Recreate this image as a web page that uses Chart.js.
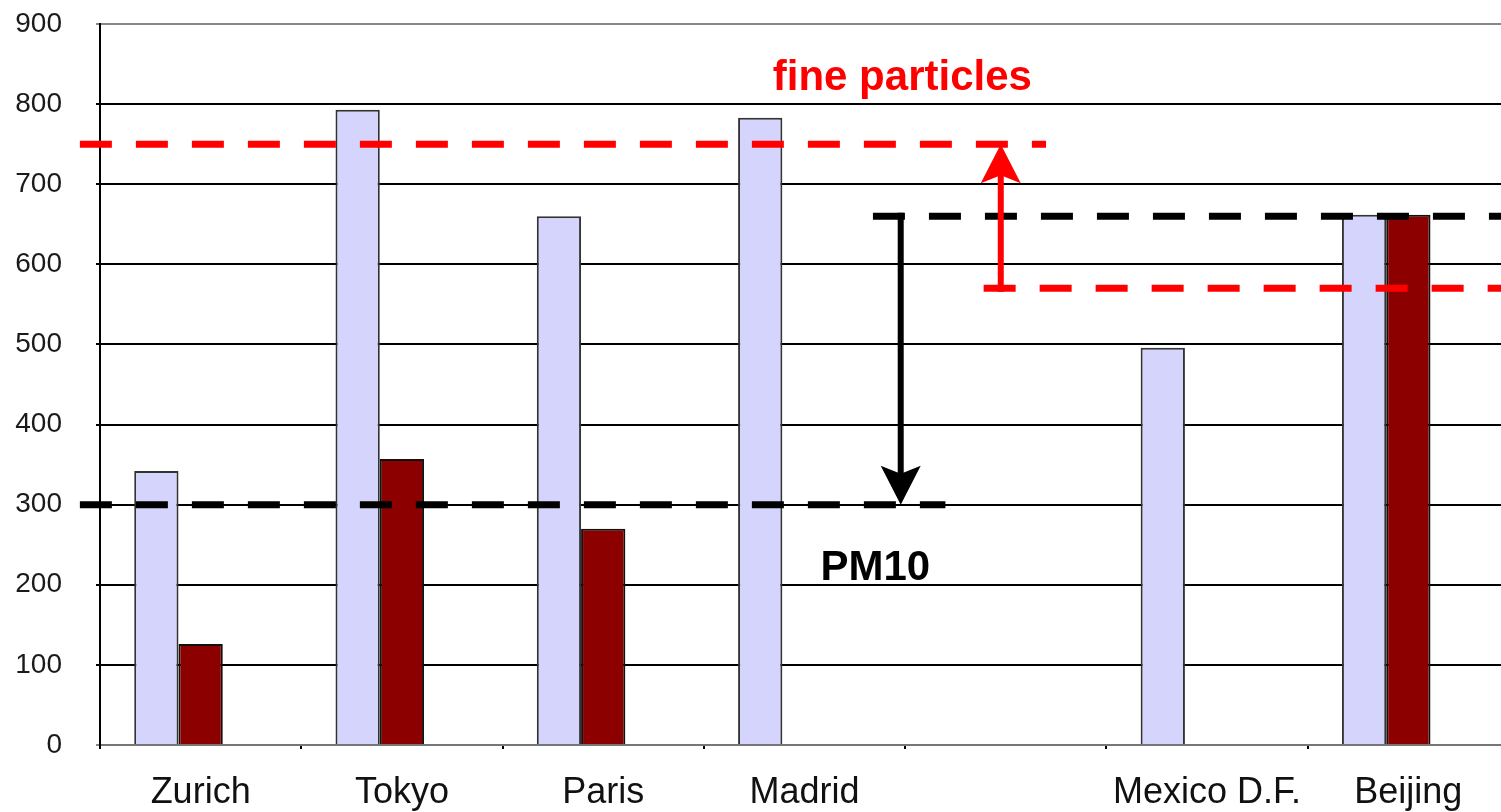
<!DOCTYPE html>
<html>
<head>
<meta charset="utf-8">
<title>PM10 and fine particles</title>
<script src="https://cdn.jsdelivr.net/npm/chart.js@4.4.0/dist/chart.umd.min.js"></script>
<style>
  html, body { margin: 0; padding: 0; background: #fff; overflow: hidden; }
  #wrap { width: 1509px; height: 812px; }
</style>
</head>
<body>
<div id="wrap"><canvas id="pmChart"></canvas></div>
<script>
// chart values
const cities = ['Zurich', 'Tokyo', 'Paris', 'Madrid', '', 'Mexico D.F.', 'Beijing'];
const pm10Values = [342, 793, 660, 783, null, 496, 662];
const fineValues = [126, 357, 270, null, null, null, 662];
const emptyValues = [null, null, null, null, null, null, null];
const yMin = 0;
const yMax = 900;
const yStep = 100;

// dashed reference levels (value, from/to in category units)
const levelValues = [750, 300, 660, 570];
const levelFrom = [-0.6, -0.6, 3.34, 3.89];
const levelTo = [4.2, 3.7, 6.5, 6.5];
const levelColors = ['#ff0000', '#000000', '#000000', '#ff0000'];

// arrows: category position, start value, end value (tip)
const arrowAt = [3.975, 3.478];
const arrowFrom = [570, 660];
const arrowTo = [750, 300];
const arrowColors = ['#ff0000', '#000000'];

// labels on the plot
const noteTexts = ['fine particles', 'PM10'];
const noteAt = [3.486, 3.352];
const noteValues = [818, 206];
const noteColors = ['#ff0000', '#000000'];

const overlay = {
  id: 'overlay',
  afterDatasetsDraw(chart) {
    const ctx = chart.ctx;
    const x = chart.scales.x;
    const y = chart.scales.y;
    ctx.save();

    // dashed lines
    ctx.lineWidth = 7;
    ctx.setLineDash([32, 24]);
    ctx.lineCap = 'butt';
    levelValues.forEach((v, i) => {
      const py = y.getPixelForValue(v);
      ctx.strokeStyle = levelColors[i];
      ctx.beginPath();
      ctx.moveTo(x.getPixelForValue(levelFrom[i]), py);
      ctx.lineTo(x.getPixelForValue(levelTo[i]), py);
      ctx.stroke();
    });

    // arrows
    ctx.setLineDash([]);
    arrowAt.forEach((pos, i) => {
      const px = x.getPixelForValue(pos);
      const p0 = y.getPixelForValue(arrowFrom[i]);
      const p1 = y.getPixelForValue(arrowTo[i]);
      const dir = p1 > p0 ? 1 : -1;
      const headLen = 39, headHalf = 20, notch = 8;
      ctx.strokeStyle = arrowColors[i];
      ctx.fillStyle = arrowColors[i];
      ctx.lineWidth = 6;
      ctx.beginPath();
      ctx.moveTo(px, p0 - dir * 3.5);
      ctx.lineTo(px, p1 - dir * (headLen - notch - 2));
      ctx.stroke();
      ctx.beginPath();
      ctx.moveTo(px, p1);
      ctx.lineTo(px + headHalf, p1 - dir * headLen);
      ctx.lineTo(px, p1 - dir * (headLen - notch));
      ctx.lineTo(px - headHalf, p1 - dir * headLen);
      ctx.closePath();
      ctx.fill();
    });

    // notes
    ctx.font = 'bold 42px "Liberation Sans", Arial, sans-serif';
    ctx.textAlign = 'center';
    ctx.textBaseline = 'alphabetic';
    noteTexts.forEach((t, i) => {
      ctx.fillStyle = noteColors[i];
      ctx.fillText(t, x.getPixelForValue(noteAt[i]), y.getPixelForValue(noteValues[i]));
    });
    ctx.restore();
  }
};

Chart.defaults.font.family = '"Liberation Sans", Arial, sans-serif';

new Chart(document.getElementById('pmChart'), {
  type: 'bar',
  data: {
    labels: cities,
    datasets: [
      {
        label: 'PM10',
        data: pm10Values,
        backgroundColor: '#d4d4fd',
        borderColor: '#333',
        borderWidth: 2
      },
      {
        label: 'fine particles',
        data: fineValues,
        backgroundColor: '#8c0000',
        borderColor: '#111',
        borderWidth: 2
      },
      {
        label: '',
        data: emptyValues,
        backgroundColor: '#fff'
      }
    ]
  },
  options: {
    responsive: true,
    maintainAspectRatio: false,
    animation: false,
    datasets: {
      bar: { categoryPercentage: 0.66, barPercentage: 1.0 }
    },
    layout: { padding: { top: 24, right: 0, left: 0, bottom: 0 } },
    plugins: {
      legend: { display: false },
      tooltip: { enabled: false }
    },
    scales: {
      x: {
        offset: true,
        grid: {
          offset: true,
          drawOnChartArea: false,
          color: '#000',
          lineWidth: 2,
          tickLength: 4
        },
        border: { color: '#777', width: 2 },
        ticks: {
          color: '#111',
          font: { size: 36 },
          padding: 22,
          maxRotation: 0,
          autoSkip: false
        },
        afterFit(scale) {
          scale.height = 67;
          scale.paddingLeft = 0;
          scale.paddingRight = 0;
        }
      },
      y: {
        min: yMin,
        max: yMax,
        ticks: {
          stepSize: yStep,
          color: '#1a1a1a',
          font: { size: 28 },
          padding: 34
        },
        grid: {
          color: ctx => (ctx.tick && (ctx.tick.value === yMax || ctx.tick.value === yMin)) ? '#888' : '#000',
          lineWidth: 2,
          tickLength: 4
        },
        border: { color: '#000', width: 2 },
        afterFit(scale) {
          scale.width = 100;
          scale.paddingTop = 0;
          scale.paddingBottom = 0;
        }
      }
    }
  },
  plugins: [overlay]
});
</script>
</body>
</html>
